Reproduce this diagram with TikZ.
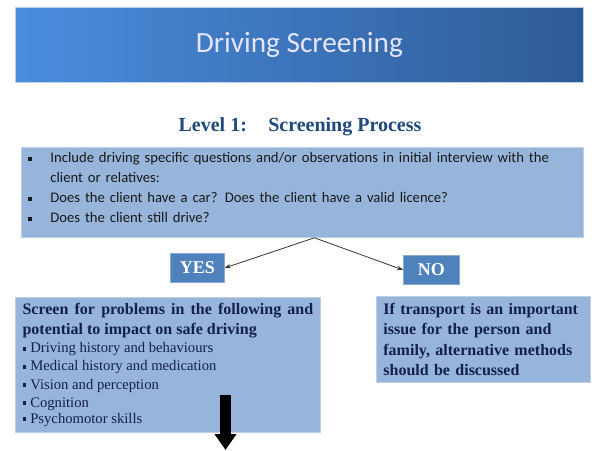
\documentclass[tikz,border=0pt]{standalone}
\usepackage{fontspec}
\setmainfont{Liberation Serif}
\newfontfamily\calibri{Carlito}
\usetikzlibrary{arrows.meta}

\definecolor{bannerlight}{HTML}{4A8DDE}
\definecolor{bannerdark}{HTML}{2E5B96}
\definecolor{boxfill}{HTML}{97B5DA}
\definecolor{boxline}{HTML}{BCD0E8}
\definecolor{tagfill}{HTML}{4F81BD}
\definecolor{tagline}{HTML}{8AAAD4}
\definecolor{navy}{HTML}{131F4C}
\definecolor{headblue}{HTML}{1F497D}

% small square bullets
\newcommand{\sqb}{\rule[0.3ex]{2.8pt}{2.8pt}}
\newcommand{\bitem}[1]{\noindent\hangindent=16.5pt\hangafter=1\makebox[16.5pt][l]{\sqb}#1\par}

\tikzset{
  panel/.style={draw=boxline, line width=0.6pt, fill=boxfill, anchor=north west, inner xsep=5.25pt, inner ysep=0pt},
  tag/.style={draw=tagline, line width=0.6pt, fill=tagfill, anchor=north west, text=white,
    font=\bfseries\fontsize{13.5}{13.5}\selectfont, minimum height=21.75pt, inner sep=0pt},
  branch/.style={draw=black!80, line width=0.6pt, -{Stealth[length=4.5pt,width=3.5pt]}}
}

\begin{document}
\begin{tikzpicture}[x=0.75pt,y=-0.75pt]
\useasboundingbox (0,0) rectangle (600,450);

% Title banner
\node[left color=bannerlight, right color=bannerdark, draw=boxline, line width=0.5pt,
  minimum width=426pt, minimum height=56.25pt, anchor=north west, text=white!90!blue,
  font=\calibri\fontsize{22}{22}\selectfont] (banner) at (15,7) {Driving Screening};

% Level heading
\node[text=headblue, font=\bfseries\fontsize{15}{15}\selectfont] (level) at (300,127)
  {Level 1:\hspace{16pt}Screening Process};

% Questions panel
\node[panel, minimum width=421.5pt, minimum height=67.5pt, text width=411pt, align=left,
  text=black!90, font=\calibri\fontsize{11}{15}\selectfont] (questions) at (21,147) {%
  \bitem{Include driving specific questions and/or observations in initial interview with the\newline client or relatives:}%
  \bitem{Does the client have a car? Does the client have a valid licence?}%
  \bitem{Does the client still drive?}\vspace{7pt}};

% Answers
\node[tag, minimum width=40.5pt] (yes) at (170,253) {YES};
\node[tag, minimum width=42pt] (no) at (403,255) {NO};

\draw[branch] ([xshift=9pt]questions.south) -- (yes.east);
\draw[branch] ([xshift=9pt]questions.south) -- (no.west);

% Outcome panels
\node[panel, minimum width=228.75pt, minimum height=101.25pt, text width=218pt, align=justify,
  text=navy] (screen) at (15,297) {%
  {\bfseries\fontsize{12}{15}\selectfont Screen for problems in the following and potential to impact on safe driving\par}
  \fontsize{11}{13.6}\selectfont\raggedright
  \sqb\hspace{3pt}Driving history and behaviours\\
  \sqb\hspace{3pt}Medical history and medication\\
  \sqb\hspace{3pt}Vision and perception\\
  \sqb\hspace{3pt}Cognition\\
  \sqb\hspace{3pt}Psychomotor skills};

\node[panel, minimum width=160.5pt, minimum height=64.5pt, text width=150pt, align=left,
  text=navy, font=\bfseries\fontsize{12}{15.25}\selectfont] (transport) at (376,296)
  {If transport is an important\\ issue for the person and\\ family, alternative methods\\ should be discussed};

% Continue downward
\coordinate (droptop) at (225.5,395);
\coordinate (dropend) at (225.5,450);
\draw[line width=8.25pt, -{Triangle[width=15.75pt,length=12pt]}] (droptop) -- (dropend);

\end{tikzpicture}
\end{document}
